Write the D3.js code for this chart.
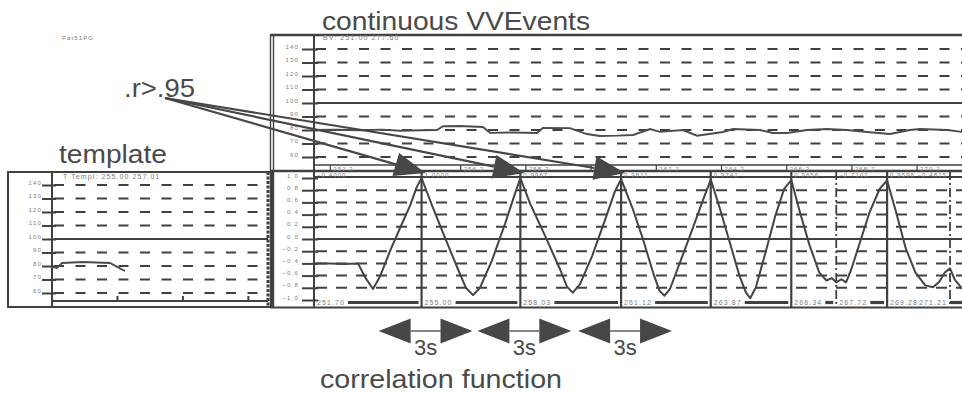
<!DOCTYPE html>
<html>
<head>
<meta charset="utf-8">
<script src="https://cdn.jsdelivr.net/npm/d3@7"></script>
<style>
  html, body { margin: 0; padding: 0; background: #fff; }
  svg { display: block; }
  text { font-family: "Liberation Sans", Arial, Helvetica, sans-serif; }
</style>
</head>
<body>
<svg id="chart" width="962" height="394"></svg>
<script>
// ---- data ----
const signalTicks = [60, 70, 80, 90, 100, 110, 120, 130, 140];
const corrTicks = [-1.0, -0.8, -0.6, -0.4, -0.2, 0.0, 0.2, 0.4, 0.6, 0.8, 1.0];

// continuous signal (time in s, value)
const signalT = [251.70, 252.40, 253.11, 253.80, 254.34, 255.00, 255.47, 255.66, 256.18, 256.88,
                 257.10, 257.80, 258.54, 258.72, 259.55, 260.07, 260.47, 261.00, 261.49, 262.01,
                 262.31, 263.02, 263.45, 264.25, 264.55, 265.38, 265.78, 266.21, 266.82, 267.44,
                 268.05, 268.66, 269.37, 269.98, 270.29, 271.12, 271.62];
const signalV = [80.0, 80.2, 79.8, 80.3, 79.4, 79.8, 80.0, 82.8, 83.0, 82.2,
                 77.9, 78.2, 77.8, 81.5, 81.4, 77.0, 75.6, 75.8, 76.3, 80.7,
                 78.6, 80.0, 75.8, 78.5, 80.7, 80.0, 77.8, 77.8, 80.0, 80.7,
                 80.0, 78.5, 77.0, 80.0, 80.7, 80.0, 78.5];

// template segment cut from the signal
const templateT = [255.00, 255.15, 255.31, 255.95, 256.77, 256.99, 257.23];
const templateV = [79.3, 78.5, 82.2, 83.0, 82.2, 79.3, 76.3];
const templateTimeTicks = [257, 259, 261];

// correlation of the template against the running signal
const corrT = [251.70, 252.20, 252.60, 253.05, 253.26, 253.51, 253.72, 254.03, 254.34, 254.65, 254.85, 255.00,
               255.32, 255.72, 256.12, 256.36, 256.58, 256.79, 257.16, 257.56, 257.85, 258.03,
               258.33, 258.79, 259.25, 259.46, 259.64, 259.86, 260.23, 260.62, 260.93, 261.12,
               261.46, 261.79, 262.10, 262.30, 262.45, 262.62, 262.95, 263.30, 263.62, 263.87,
               264.15, 264.45, 264.75, 264.95, 265.08, 265.25, 265.55, 265.85, 266.12, 266.34,
               266.60, 266.90, 267.20, 267.42, 267.58, 267.72, 267.88, 268.02, 268.18, 268.45, 268.75, 269.05, 269.28,
               269.55, 269.85, 270.15, 270.45, 270.69, 270.88, 271.05, 271.21, 271.35, 271.62];
const corrR = [-0.40, -0.40, -0.41, -0.40, -0.62, -0.82, -0.62, -0.20, 0.18, 0.55, 0.85, 1.0000,
               0.55, 0.02, -0.50, -0.80, -0.92, -0.80, -0.35, 0.25, 0.72, 0.9967,
               0.58, 0.05, -0.50, -0.78, -0.88, -0.74, -0.28, 0.30, 0.78, 0.9811,
               0.52, 0.00, -0.55, -0.85, -0.93, -0.82, -0.35, 0.15, 0.62, 0.9742,
               0.50, -0.05, -0.60, -0.88, -0.97, -0.80, -0.22, 0.38, 0.82, 0.9656,
               0.45, -0.10, -0.55, -0.68, -0.64, -0.7102, -0.66, -0.71, -0.50, -0.05, 0.45, 0.82, 0.9598,
               0.45, -0.15, -0.55, -0.76, -0.79, -0.70, -0.55, -0.4815, -0.66, -0.84];

// marked events: time, correlation at that time, kind
const eventTimes = [251.70, 255.00, 258.03, 261.12, 263.87, 266.34, 267.72, 269.28, 271.21];
const eventR     = [-0.4000, 1.0000, 0.9967, 0.9811, 0.9742, 0.9656, -0.7102, 0.9598, -0.4815];
const eventKind  = ["start", "match", "match", "match", "match", "match", "reject", "match", "reject"];

// time ticks of the signal strip
const stripTimes = [252.2, 254.2, 256.2, 258.2, 260.2, 262.2, 264.2, 266.2, 268.2, 270.2];

// highlighted matches and the 3 s spacing markers
const arrowPeaks = [255.00, 258.03, 261.12];
const spacingSeconds = 3;

// ---- drawing ----
const W = 962;
const svg = d3.select("#chart");
const ink = "#414141";
const faint = "#7d7d7d";

const xT   = d3.scaleLinear().domain([251.70, 271.70]).range([314, 966]);
const yTop = d3.scaleLinear().domain([60, 140]).range([157, 49]);
const yCor = d3.scaleLinear().domain([-1, 1]).range([300, 178]);
const xTpl = d3.scaleLinear().domain([255.0, 261.6]).range([52, 268]);
const yTpl = d3.scaleLinear().domain([60, 140]).range([293, 185]);

function hline(g, x1, x2, y, w, dash) {
  const l = g.append("line").attr("x1", x1).attr("x2", x2).attr("y1", y).attr("y2", y)
    .attr("stroke", ink).attr("stroke-width", w);
  if (dash) l.attr("stroke-dasharray", dash);
  return l;
}
function vline(g, x, y1, y2, w, dash) {
  const l = g.append("line").attr("x1", x).attr("x2", x).attr("y1", y1).attr("y2", y2)
    .attr("stroke", ink).attr("stroke-width", w);
  if (dash) l.attr("stroke-dasharray", dash);
  return l;
}
function tiny(g, x, y, s, size) {
  return g.append("text").attr("x", x).attr("y", y).text(s)
    .attr("font-size", size || 6.5).attr("letter-spacing", 1.1).attr("fill", faint);
}
// label placed right of x, or left of it when it would run past the edge
function tinyFit(g, x, y, s, size) {
  const lab = tiny(g, x + 3, y, s, size);
  const w = lab.node().getComputedTextLength();
  if (x + 3 + w > W - 1) lab.attr("x", x - 3).attr("text-anchor", "end");
  return lab;
}
function styleAxis(g) {
  g.select(".domain").remove();
  g.selectAll(".tick line").attr("stroke", ink).attr("stroke-width", 2);
  g.selectAll(".tick text").attr("font-size", 6).attr("letter-spacing", 1.2)
    .attr("fill", faint).attr("dy", "-1px")
    .attr("font-family", "'Liberation Sans', Arial, sans-serif");
}

const frame = svg.append("g");

// ===== top panel: continuous signal =====
const sigG = svg.append("g");
hline(frame, 270, W, 35, 2.4);
vline(frame, 270.5, 35, 307, 1.4);
vline(frame, 273.5, 35, 307, 1.4);
vline(frame, 314, 35, 307, 2);

signalTicks.forEach(v => {
  if (v === 100) hline(sigG, 316, W, yTop(v), 2.2);
  else hline(sigG, 316, W, yTop(v), 2, "10,11.5");
});
sigG.append("g").attr("transform", "translate(318,0)")
  .call(d3.axisLeft(yTop).tickValues(signalTicks).tickSize(16).tickPadding(3).tickFormat(d3.format("d")))
  .call(styleAxis);

sigG.append("path")
  .datum(signalT.map((t, i) => [t, signalV[i]]))
  .attr("fill", "none").attr("stroke", "#4c4c4c").attr("stroke-width", 1.9)
  .attr("d", d3.line().x(d => xT(d[0])).y(d => yTop(d[1])));

tiny(sigG, 323, 40, "BV:  251.00  277.60", 7);

// ===== strip between panels =====
hline(frame, 314, W, 165, 1.3);
hline(frame, 270, W, 171, 2.4);
hline(frame, 314, W, 177, 2);
stripTimes.forEach(t => {
  vline(frame, xT(t), 165, 171, 1.2);
  tinyFit(frame, xT(t), 170.5, d3.format(".1f")(t), 6);
});
eventTimes.forEach((t, i) => {
  tinyFit(frame, xT(t), 176.5, d3.format(".4f")(eventR[i]), 6);
});

// ===== correlation panel =====
const cor = svg.append("g");
corrTicks.forEach(r => {
  if (Math.abs(r) === 1) return;
  if (r === 0) hline(cor, 316, W, yCor(r), 2.2);
  else hline(cor, 316, W, yCor(r), 2, "11,9");
});
cor.append("g").attr("transform", "translate(318,0)")
  .call(d3.axisLeft(yCor).tickValues(corrTicks).tickSize(16).tickPadding(3).tickFormat(d3.format(".1f")))
  .call(styleAxis);

eventTimes.forEach((t, i) => {
  if (eventKind[i] === "match") vline(cor, xT(t), 171, 307, 2.2);
  else if (eventKind[i] === "reject") vline(cor, xT(t), 171, 307, 1.8, "9,3,2,3");
});

cor.append("path")
  .datum(corrT.map((t, i) => [t, corrR[i]]))
  .attr("fill", "none").attr("stroke", "#444").attr("stroke-width", 2)
  .attr("stroke-linejoin", "round")
  .attr("d", d3.line().x(d => xT(d[0])).y(d => yCor(d[1])));

// bottom time axis: event labels joined by bars
const labs = eventTimes.map(t => {
  const lab = tinyFit(cor, xT(t), 305, d3.format(".2f")(t), 7);
  const bb = lab.node().getBBox();
  return { x0: bb.x, x1: bb.x + bb.width };
});
labs.forEach((b, i) => {
  const next = i < labs.length - 1 ? Math.min(xT(eventTimes[i + 1]), labs[i + 1].x0) - 3 : W;
  if (next > b.x1 + 3) hline(cor, b.x1 + 3, next, 302.5, 3.2);
});
hline(frame, 270, W, 307.5, 2);

// ===== template panel =====
const tpl = svg.append("g");
tpl.append("rect").attr("x", 8).attr("y", 172).attr("width", 264).attr("height", 135)
  .attr("fill", "none").attr("stroke", ink).attr("stroke-width", 2);
vline(tpl, 52, 172, 307, 2);
vline(tpl, 268, 172, 307, 3, "3,1.5");
signalTicks.forEach(v => {
  if (v === 100) hline(tpl, 54, 268, yTpl(v), 2.2);
  else hline(tpl, 54, 266, yTpl(v), 2, "10,11.5");
});
tpl.append("g").attr("transform", "translate(56,0)")
  .call(d3.axisLeft(yTpl).tickValues(signalTicks).tickSize(14).tickPadding(0).tickFormat(d3.format("d")))
  .call(styleAxis);
hline(tpl, 52, 268, 301, 2);
templateTimeTicks.forEach(t => vline(tpl, xTpl(t), 296, 301, 2));
tpl.append("path")
  .datum(templateT.map((t, i) => [t, templateV[i]]))
  .attr("fill", "none").attr("stroke", "#4c4c4c").attr("stroke-width", 1.9)
  .attr("d", d3.line().x(d => xTpl(d[0])).y(d => yTpl(d[1])));
tiny(tpl, 63, 179, "T   Templ:  255.00  257.01", 7);

tiny(svg, 62, 40, "Pat51PG", 6);

// ===== annotations =====
const ann = svg.append("g");
const origin = [165, 98];
arrowPeaks.forEach(t => {
  const tip = [xT(t) + 4, 173];
  const dx = tip[0] - origin[0], dy = tip[1] - origin[1];
  const len = Math.hypot(dx, dy), ux = dx / len, uy = dy / len;
  const base = [tip[0] - 31 * ux, tip[1] - 31 * uy];
  ann.append("line").attr("x1", origin[0]).attr("y1", origin[1]).attr("x2", base[0]).attr("y2", base[1])
    .attr("stroke", "#474747").attr("stroke-width", 2.2);
  ann.append("path")
    .attr("d", d3.line()([tip, [base[0] - 12 * uy, base[1] + 12 * ux], [base[0] + 12 * uy, base[1] - 12 * ux]]) + "Z")
    .attr("fill", "#474747");
});

// 3 s spacing markers under the first matches
arrowPeaks.forEach(t => {
  const l = xT(t - spacingSeconds * 0.48) + 4, r = xT(t + spacingSeconds * 0.48) + 4;
  const cy = 331, hw = 12.5, hl = 32;
  ann.append("path").attr("d", d3.line()([[l, cy], [l + hl, cy - hw], [l + hl, cy + hw]]) + "Z").attr("fill", "#474747");
  ann.append("path").attr("d", d3.line()([[r, cy], [r - hl, cy - hw], [r - hl, cy + hw]]) + "Z").attr("fill", "#474747");
  hline(ann, l + hl, r - hl, cy, 1.3);
  ann.append("text").attr("x", xT(t) + 4).attr("y", 355).attr("text-anchor", "middle")
    .attr("font-size", 22).attr("fill", "#4a4a4a").text(spacingSeconds + "s");
});

// titles
function title(x, y, s, w) {
  svg.append("text").attr("x", x).attr("y", y).text(s)
    .attr("font-size", 25).attr("fill", "#4a4a4a")
    .attr("textLength", w).attr("lengthAdjust", "spacingAndGlyphs");
}
title(322, 30, "continuous VVEvents", 268);
title(59, 163, "template", 108);
title(124, 97, ".r>.95", 71);
title(320, 388, "correlation function", 242);
</script>
</body>
</html>
